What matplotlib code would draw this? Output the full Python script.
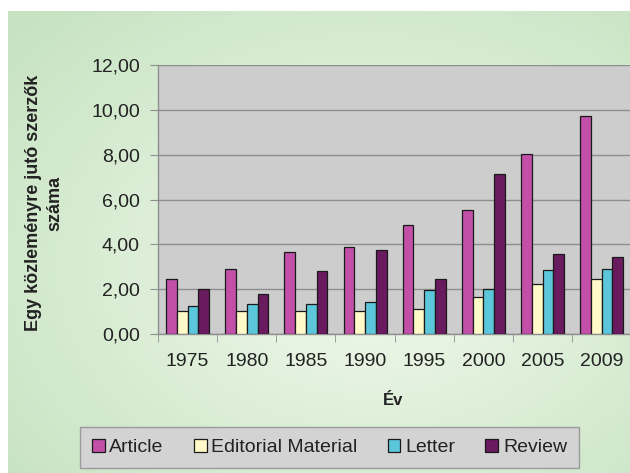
import numpy as np
import matplotlib
matplotlib.use("Agg")
import matplotlib.pyplot as plt

plt.rcParams['font.family'] = ['Liberation Sans', 'DejaVu Sans']

years = ["1975", "1980", "1985", "1990", "1995", "2000", "2005", "2009"]
series_names = ["Article", "Editorial Material", "Letter", "Review"]
article = [2.46, 2.90, 3.67, 3.88, 4.86, 5.51, 8.01, 9.72]
editorial = [1.04, 1.04, 1.04, 1.04, 1.13, 1.66, 2.25, 2.46]
letter = [1.27, 1.36, 1.36, 1.44, 1.96, 2.01, 2.84, 2.90]
review = [2.01, 1.79, 2.83, 3.75, 2.46, 7.14, 3.59, 3.44]
yticks = [0, 2, 4, 6, 8, 10, 12]
ytick_labels = ["0,00", "2,00", "4,00", "6,00", "8,00", "10,00", "12,00"]

colors = ["#C250A8", "#FFFAC8", "#5CC6DA", "#6A1A5E"]

W, H = 630, 473
fig = plt.figure(figsize=(W / 100, H / 100), dpi=100)
fig.patch.set_facecolor("white")

# background gradient
bg = fig.add_axes([8 / W, 0, 1 - 8 / W, (H - 11) / H])
bg.set_axis_off()
ny, nx = 200, 260
yy, xx = np.mgrid[0:ny, 0:nx]
cx, cy = 0.58 * nx, 0.55 * ny
r = np.sqrt(((xx - cx) / (0.75 * nx)) ** 2 + ((yy - cy) / (0.75 * ny)) ** 2)
r = np.clip(r, 0, 1)
c_in = np.array([0.95, 0.98, 0.93])
c_out = np.array([0.78, 0.89, 0.76])
img = c_in[None, None, :] * (1 - r[..., None]) + c_out[None, None, :] * r[..., None]
bg.imshow(img, aspect="auto", extent=[0, 1, 0, 1], interpolation="bilinear")
bg.set_xlim(0, 1)
bg.set_ylim(0, 1)

ax = fig.add_axes([158 / W, 1 - 334 / H, 1 - 158 / W + 0.002, (334 - 65) / H])
ax.set_facecolor("#CDCDCD")
x = np.arange(len(years))
bw = 0.182
data = [article, editorial, letter, review]
for i, (name, vals) in enumerate(zip(series_names, data)):
    ax.bar(x + (i - 1.5) * bw, vals, bw, color=colors[i], edgecolor="#1a1a1a",
           linewidth=0.9, label=name, zorder=3)

ax.set_xlim(-0.5, len(years) - 0.5)
ax.set_ylim(0, 12)
ax.set_yticks(yticks)
ax.set_yticklabels(ytick_labels, fontsize=14, color="#222222")
ax.yaxis.grid(True, color="#8E8E8E", linewidth=1.0, zorder=0)
ax.set_axisbelow(True)
ax.set_xticks(x)
ax.set_xticklabels(years, fontsize=14, color="#222222")
ax.set_xticks(np.arange(-0.5, len(years), 1), minor=True)
ax.tick_params(axis="x", which="major", length=0, pad=14)
ax.tick_params(axis="x", which="minor", length=6, color="#8E8E8E", direction="out")
ax.tick_params(axis="y", length=6, color="#8E8E8E", pad=7)
for s in ["top", "right"]:
    ax.spines[s].set_visible(False)
for s in ["left", "bottom"]:
    ax.spines[s].set_color("#8E8E8E")
    ax.spines[s].set_linewidth(1.0)

fig.text(44 / W, 1 - 203 / H, "Egy közleményre jutó szerzők\nszáma", rotation=90,
         ha="center", va="center", fontsize=13, fontweight="bold",
         color="#222222", linespacing=1.3)
fig.text(393 / W, 1 - 400 / H, "Év", ha="center", va="center", fontsize=12,
         fontweight="bold", color="#222222")

handles, labels = ax.get_legend_handles_labels()
leg = fig.legend(handles, labels, loc="center", bbox_to_anchor=(329.5 / W, 1 - 447.5 / H),
                 ncol=4, fontsize=14, frameon=True, fancybox=False,
                 handlelength=0.65, handleheight=0.65, handletextpad=0.25,
                 columnspacing=1.55, borderpad=0.6, borderaxespad=0)
leg.get_frame().set_facecolor("#D3D3D3")
leg.get_frame().set_edgecolor("#9A9A9A")
leg.get_frame().set_alpha(1)
for t in leg.get_texts():
    t.set_color("#222222")

fig.savefig("out.png", dpi=100, facecolor=fig.get_facecolor())
